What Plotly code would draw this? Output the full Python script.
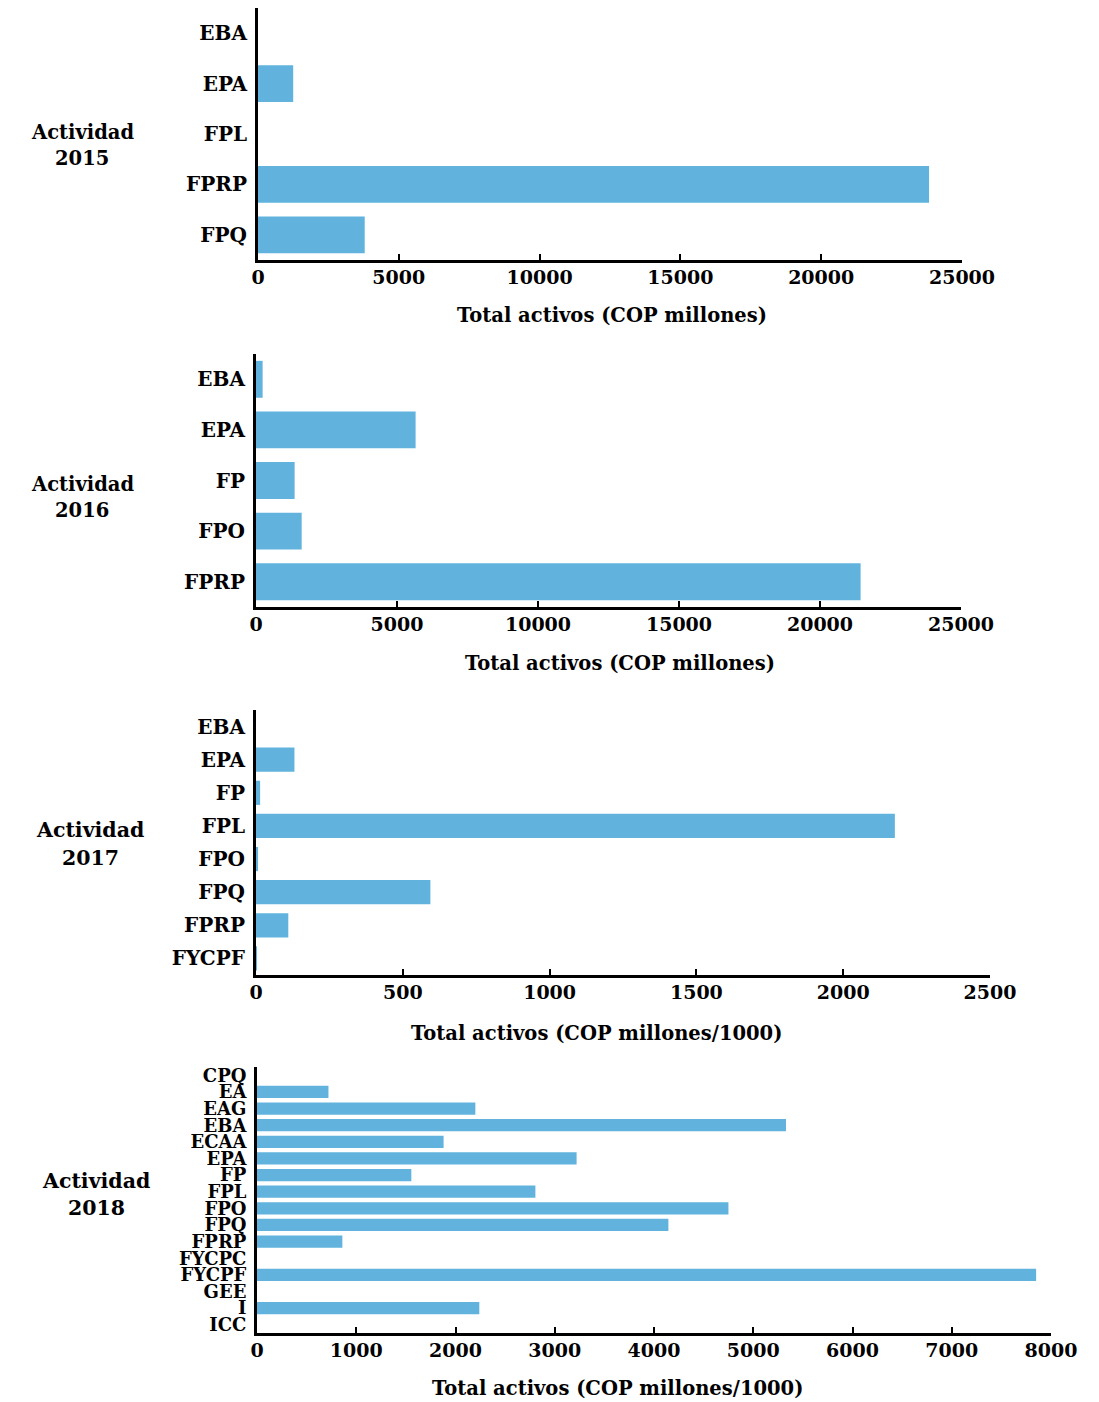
import plotly.graph_objects as go

# ---- data ----
cat2015 = ["EBA", "EPA", "FPL", "FPRP", "FPQ"]
val2015 = [0, 1250, 0, 23830, 3790]

cat2016 = ["EBA", "EPA", "FP", "FPO", "FPRP"]
val2016 = [235, 5660, 1370, 1620, 21440]

cat2017 = ["EBA", "EPA", "FP", "FPL", "FPO", "FPQ", "FPRP", "FYCPF"]
val2017 = [0, 131, 14, 2176, 7, 594, 110, 2]

cat2018 = ["CPQ", "EA", "EAG", "EBA", "ECAA", "EPA", "FP", "FPL", "FPO", "FPQ",
           "FPRP", "FYCPC", "FYCPF", "GEE", "I", "ICC"]
val2018 = [0, 720, 2200, 5330, 1880, 3220, 1555, 2805, 4750, 4145,
           860, 0, 7850, 0, 2240, 0]

xtitle_a = "Total activos (COP millones)"
xtitle_b = "Total activos (COP millones/1000)"
ylabel = "Actividad"
years = ["2015", "2016", "2017", "2018"]

OFF = 8  # page body margin
W, H = 1099 - OFF, 1402 - OFF
FONT = "DejaVu Serif"
BAR = "#61b3de"

def px_x(x):
    return (x - OFF) / W

def px_y(y):
    return 1 - (y - OFF) / H

panels = [
    dict(cats=cat2015, vals=val2015, x0=258, x1=962, y0=8, y1=260, rng=[0, 25000], dt=5000,
         tickfs=20, xt=xtitle_a, xtx=612, xty=315, yr=years[0], ytx=82, yty=(132, 159), ytfs=19.5),
    dict(cats=cat2016, vals=val2016, x0=256, x1=961, y0=354, y1=607, rng=[0, 25000], dt=5000,
         tickfs=20, xt=xtitle_a, xtx=620, xty=663, yr=years[1], ytx=82, yty=(484, 510), ytfs=19.5),
    dict(cats=cat2017, vals=val2017, x0=256, x1=990, y0=710, y1=975, rng=[0, 2500], dt=500,
         tickfs=20, xt=xtitle_b, xtx=596, xty=1033, yr=years[2], ytx=90, yty=(830, 858), ytfs=20.5),
    dict(cats=cat2018, vals=val2018, x0=257, x1=1051, y0=1067, y1=1333, rng=[0, 8000], dt=1000,
         tickfs=18, xt=xtitle_b, xtx=617, xty=1388, yr=years[3], ytx=96, yty=(1181, 1208), ytfs=20.5),
]

fig = go.Figure()
annotations = []
for i, p in enumerate(panels, start=1):
    sfx = "" if i == 1 else str(i)
    fig.add_trace(go.Bar(
        x=p["vals"], y=p["cats"], orientation="h", marker_color=BAR,
        marker_line_width=0, xaxis="x" + sfx, yaxis="y" + sfx, showlegend=False,
    ))
    fig.update_layout(**{
        "xaxis" + sfx: dict(
            domain=[px_x(p["x0"]), px_x(p["x1"])], anchor="y" + sfx,
            range=p["rng"], dtick=p["dt"], tick0=0, tickformat="d",
            showgrid=False, zeroline=False, automargin=False,
            showline=True, linecolor="black", linewidth=3,
            ticks="inside", ticklen=6, tickwidth=2, tickcolor="black",
            tickfont=dict(family=FONT, size=19, color="black", weight="bold"),
            ticklabelstandoff=-2,
        ),
        "yaxis" + sfx: dict(
            domain=[px_y(p["y1"]), px_y(p["y0"])], anchor="x" + sfx,
            type="category", autorange="reversed", showgrid=False, zeroline=False,
            automargin=False,
            tickmode="array", tickvals=p["cats"], ticktext=p["cats"],
            showline=True, linecolor="black", linewidth=3, ticks="",
            tickfont=dict(family=FONT, size=p["tickfs"], color="black", weight="bold"),
            ticklabelstandoff=4,
        ),
    })
    annotations.append(dict(
        text=p["xt"], x=px_x(p["xtx"]), y=px_y(p["xty"]), xref="paper", yref="paper",
        xanchor="center", yanchor="middle", showarrow=False,
        font=dict(family=FONT, size=19.5, color="black", weight="bold"),
    ))
    for txt, yy in zip([ylabel, p["yr"]], p["yty"]):
        annotations.append(dict(
            text=txt, x=px_x(p["ytx"]), y=px_y(yy), xref="paper", yref="paper",
            xanchor="center", yanchor="middle", showarrow=False,
            font=dict(family=FONT, size=p["ytfs"], color="black", weight="bold"),
        ))

fig.update_layout(
    width=W, height=H, margin=dict(l=0, r=0, t=0, b=0, autoexpand=False),
    paper_bgcolor="white", plot_bgcolor="white",
    bargap=0.27, annotations=annotations,
)

fig.write_html("out.html")
